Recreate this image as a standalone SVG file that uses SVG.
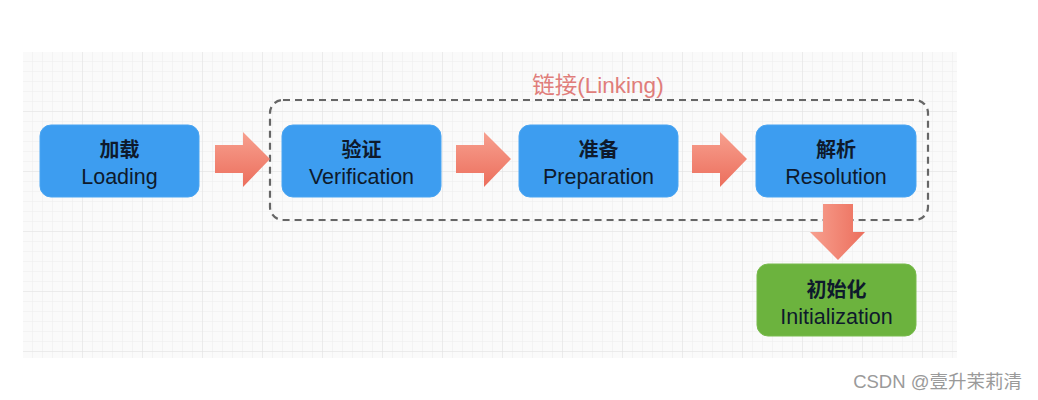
<svg xmlns="http://www.w3.org/2000/svg" width="1038" height="400" viewBox="0 0 1038 400">
<defs>
<pattern id="fine" width="10" height="10" patternUnits="userSpaceOnUse" x="23" y="52">
<path d="M10 0V10M0 10H10" fill="none" stroke="#ececec" stroke-width="1"/>
</pattern>
<pattern id="coarse" width="60" height="60" patternUnits="userSpaceOnUse" x="23" y="52">
<path d="M60 0V60M0 60H60" fill="none" stroke="#e2e2e2" stroke-width="1"/>
</pattern>
<linearGradient id="ag" x1="0" y1="0" x2="0" y2="1">
<stop offset="0" stop-color="#f7a08f"/>
<stop offset="1" stop-color="#ec6e5c"/>
</linearGradient>
<linearGradient id="agv" x1="0" y1="0" x2="1" y2="0">
<stop offset="0" stop-color="#f7a08f"/>
<stop offset="1" stop-color="#ec6e5c"/>
</linearGradient>
</defs>
<style>
.box{fill:#3d9df0;stroke:#4aa5f2;stroke-width:1}
.green{fill:#6cb33e;stroke:#78bb4c;stroke-width:1}
.t{font-family:"Liberation Sans","Noto Sans CJK SC",sans-serif;font-size:21.5px;fill:#0e1a2c;text-anchor:middle}
.cj{font-weight:bold;font-size:20px}
.arr{fill:url(#ag)}
</style>
<rect width="1038" height="400" fill="#ffffff"/>
<rect x="23" y="52" width="934" height="306" fill="#fafafa"/>
<rect x="23" y="52" width="934" height="306" fill="url(#fine)"/>
<rect x="23" y="52" width="934" height="306" fill="url(#coarse)"/>

<g id="linking-group">
<rect x="270" y="100" width="658" height="120" rx="13" fill="none" stroke="#666" stroke-width="2.2" stroke-dasharray="7,5"/>
<text x="598" y="93" style="font-family:'Liberation Sans','Noto Sans CJK SC',sans-serif;font-size:22.5px;fill:#e07d7a;text-anchor:middle">链接(Linking)</text>
</g>

<g id="connectors">
<polygon class="arr" points="215,145 243,145 243,132 270,159 243,187 243,173 215,173"/>
<polygon class="arr" points="456,145 484,145 484,132 511,159 484,187 484,173 456,173"/>
<polygon class="arr" points="692,145 720,145 720,132 747,159 720,187 720,173 692,173"/>
<polygon fill="url(#agv)" points="823,204 853,204 853,232 865,232 838,260 810,232 823,232"/>
</g>

<g id="loading">
<rect class="box" x="40" y="125" width="159" height="72" rx="11"/>
<text class="t cj" x="119.5" y="157">加载</text>
<text class="t" x="119.5" y="184">Loading</text>
</g>
<g id="verification">
<rect class="box" x="282" y="125" width="159" height="72" rx="11"/>
<text class="t cj" x="361.5" y="157">验证</text>
<text class="t" x="361.5" y="184">Verification</text>
</g>
<g id="preparation">
<rect class="box" x="519" y="125" width="159" height="72" rx="11"/>
<text class="t cj" x="598.5" y="157">准备</text>
<text class="t" x="598.5" y="184">Preparation</text>
</g>
<g id="resolution">
<rect class="box" x="756" y="125" width="160" height="72" rx="11"/>
<text class="t cj" x="836" y="157">解析</text>
<text class="t" x="836" y="184">Resolution</text>
</g>
<g id="initialization">
<rect class="green" x="757" y="264" width="159" height="72" rx="11"/>
<text class="t cj" x="836.5" y="297">初始化</text>
<text class="t" x="836.5" y="324">Initialization</text>
</g>

<text x="1022" y="388" style="font-family:'Liberation Sans','Noto Sans CJK SC',sans-serif;font-size:18.5px;fill:#9a9a9a;text-anchor:end">CSDN @壹升茉莉清</text>
</svg>
